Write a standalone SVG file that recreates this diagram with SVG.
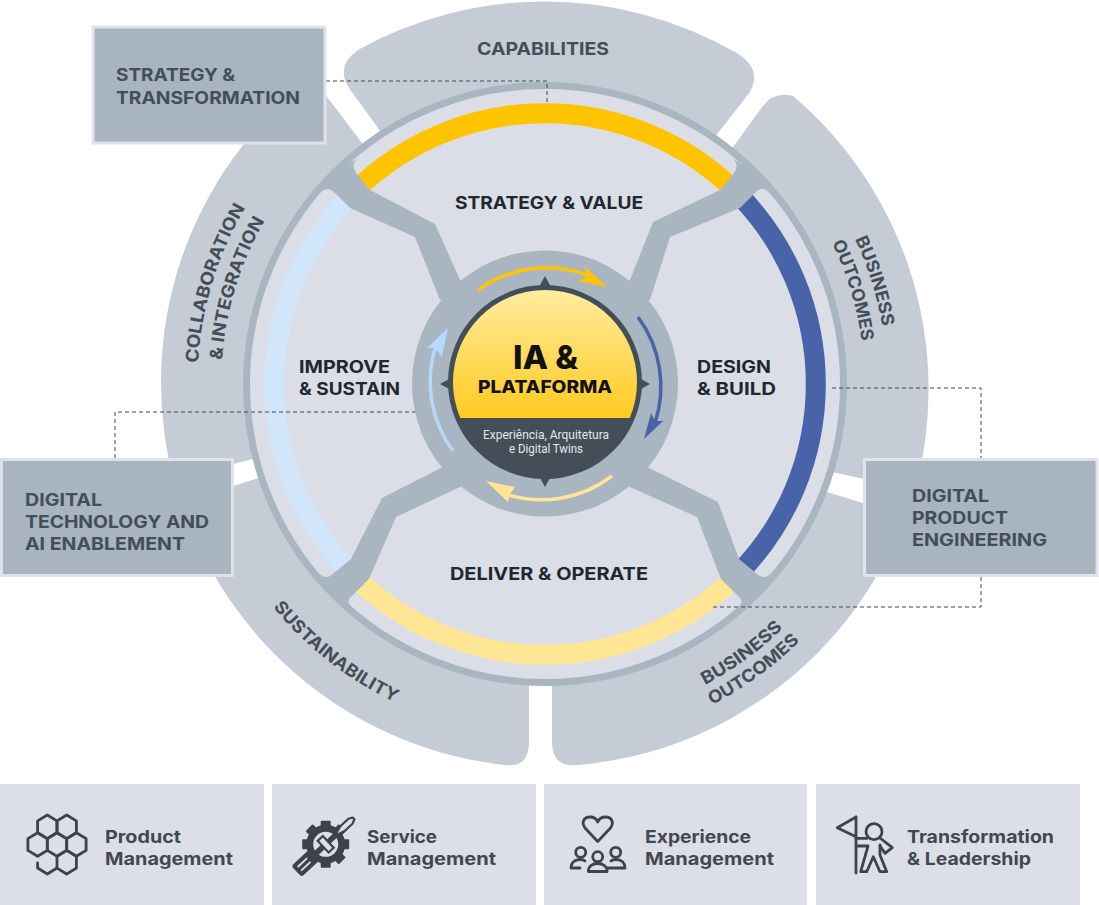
<svg xmlns="http://www.w3.org/2000/svg" xmlns:xlink="http://www.w3.org/1999/xlink" width="1099" height="905" viewBox="0 0 1099 905">
<style>
.sector{fill:#c6ccd5}
.spoke{fill:#a9b5c1}
.band{fill:none;stroke-width:20}
.lab{font-family:Inter,"Liberation Sans",sans-serif;font-weight:700;font-size:17.5px;fill:#434e58}
.main{fill:#22272f}
.bot{font-family:Inter,"Liberation Sans",sans-serif;font-weight:700;font-size:17.5px;fill:#434850}
.box{fill:#a8b4c0;stroke:#dfe3e9;stroke-width:3}
.tile{fill:#dcdfe7}
.dash{fill:none;stroke:#3f4954;stroke-width:1;stroke-dasharray:4 3}
.thin{fill:none;stroke-width:3.5}
.ico{fill:none;stroke:#3d434c;stroke-width:2.8;stroke-linejoin:round;stroke-linecap:round}
.icf{fill:#3d434c}
</style>
<defs>
<linearGradient id="sun" x1="0" y1="290" x2="0" y2="418" gradientUnits="userSpaceOnUse"><stop offset="0" stop-color="#ffec9e"/><stop offset="1" stop-color="#ffcb20"/></linearGradient>
<clipPath id="upper"><rect x="440" y="270" width="210" height="148"/></clipPath>
<path id="hex" d="M0,-11.8 L9.7,-5.9 V5.9 L0,11.8 L-9.7,5.9 V-5.9 Z"/>
<rect id="tooth" x="-5" y="-23.5" width="10" height="8" rx="1"/>
<path id="p1" d="M198,363 A348,348 0 0 1 300,137"/>
<path id="p2" d="M222,360 A324,324 0 0 1 320,150"/>
<path id="p3" d="M855,239 A342,342 0 0 1 872,484"/>
<path id="p4" d="M832,243 A320,320 0 0 1 848,484"/>
<path id="p5" d="M273,607 A352,352 0 0 0 545,736"/>
<path id="p6" d="M705,685 A341,341 0 0 0 886,384"/>
<path id="p7" d="M712,705 A362,362 0 0 0 907,384"/>
</defs>
<rect width="1099" height="905" fill="#fff"/>

<g id="sector-capabilities">
<path class="sector" d="M545,384 L378,128 L349,88 Q335,66 358,50 A384,384 0 0 1 735,52 Q763,68 750,92 L718,133 Z"/>
<text class="lab" x="477" y="55" textLength="132" lengthAdjust="spacingAndGlyphs">CAPABILITIES</text>
</g>
<g id="sector-business-outcomes-top">
<path class="sector" d="M545,384 L733,147 L763,106 Q774,91 793,96 A384,384 0 0 1 915,490 L832,472 Z"/>
<text class="lab"><textPath href="#p3" xlink:href="#p3" textLength="92" lengthAdjust="spacingAndGlyphs">BUSINESS</textPath></text>
<text class="lab"><textPath href="#p4" xlink:href="#p4" textLength="103" lengthAdjust="spacingAndGlyphs">OUTCOMES</textPath></text>
</g>
<g id="sector-business-outcomes-bottom">
<path class="sector" d="M545,384 L827,492 L905,516 A384,384 0 0 1 578,765 Q552,768 552,742 L552,680 Z"/>
<text class="lab"><textPath href="#p6" xlink:href="#p6" textLength="97" lengthAdjust="spacingAndGlyphs">BUSINESS</textPath></text>
<text class="lab"><textPath href="#p7" xlink:href="#p7" textLength="109" lengthAdjust="spacingAndGlyphs">OUTCOMES</textPath></text>
</g>
<g id="sector-sustainability">
<path class="sector" d="M545,384 L529,680 L529,742 Q529,768 505,765 A384,384 0 0 1 182,503 L243,483 Z"/>
<text class="lab"><textPath href="#p5" xlink:href="#p5" textLength="156" lengthAdjust="spacingAndGlyphs">SUSTAINABILITY</textPath></text>
</g>
<g id="sector-collaboration">
<path class="sector" d="M545,384 L237,463 L175,485 A384,384 0 0 1 312,77 L362,143 Z"/>
<text class="lab"><textPath href="#p1" xlink:href="#p1" textLength="164" lengthAdjust="spacingAndGlyphs">COLLABORATION</textPath></text>
<text class="lab"><textPath href="#p2" xlink:href="#p2" textLength="147" lengthAdjust="spacingAndGlyphs">&amp; INTEGRATION</textPath></text>
</g>

<g id="wheel">
<circle cx="545" cy="384" r="298.5" fill="#dbdee6" stroke="#a9b5c1" stroke-width="7"/>
<path class="band" stroke="#ffc400" d="M357,189 A271,271 0 0 1 733,189"/>
<path class="band" stroke="#4863a8" d="M740,196 A271,271 0 0 1 740,572"/>
<path class="band" stroke="#ffe694" d="M733,579 A271,271 0 0 1 357,579"/>
<path class="band" stroke="#d2e6fb" d="M350,572 A271,271 0 0 1 350,196"/>
</g>

<g id="connectors">
<path class="spoke" d="M475,300 L460,280 L435,224 L370,190 L356,173 Q349,163 360,157 L338,170 L321,193 Q327,186 333,191 L350,208 L415,237 L440,300 Z"/>
<path class="spoke" d="M615,300 L630,280 L653,222 L720,190 L734,173 Q741,163 730,157 L752,170 L769,193 Q763,186 757,191 L740,208 L670,237 L650,300 Z"/>
<path class="spoke" d="M470,450 L441,468 L382,498 L351,559 L334,573 Q325,582 318,571 L331,591 L354,610 Q344,602 352,596 L369,579 L396,517 L460,487 L480,470 Z"/>
<path class="spoke" d="M620,450 L649,468 L718,502 L739,559 L756,573 Q765,582 772,571 L759,591 L736,610 Q746,602 738,596 L721,579 L697,517 L630,487 L610,470 Z"/>
<path class="dash" d="M326,81 H547 V102"/>
<path class="dash" d="M115,458 V412 H453"/>
<path class="dash" d="M832,388 H981 V458"/>
<path class="dash" d="M981,577 V607 H712"/>
</g>

<text class="lab main" x="455" y="209" textLength="188" lengthAdjust="spacingAndGlyphs">STRATEGY &amp; VALUE</text>
<text class="lab main" x="299" y="373" textLength="91" lengthAdjust="spacingAndGlyphs">IMPROVE</text>
<text class="lab main" x="299" y="395" textLength="101" lengthAdjust="spacingAndGlyphs">&amp; SUSTAIN</text>
<text class="lab main" x="697" y="373" textLength="74" lengthAdjust="spacingAndGlyphs">DESIGN</text>
<text class="lab main" x="697" y="395" textLength="79" lengthAdjust="spacingAndGlyphs">&amp; BUILD</text>
<text class="lab main" x="450" y="580" textLength="198" lengthAdjust="spacingAndGlyphs">DELIVER &amp; OPERATE</text>

<g id="hub">
<circle cx="545" cy="383.5" r="133" fill="#a9b5c1"/>
<path class="thin" stroke="#ffc400" d="M478,290 A117,117 0 0 1 592,277"/>
<path fill="#ffc400" d="M607,287 L584,266 L587,277 L577,281 Z"/>
<path class="thin" stroke="#4863a8" d="M638,317 A117,117 0 0 1 655,423"/>
<path fill="#4863a8" d="M644,439 L663,421 L655,421 L651,413 Z"/>
<path class="thin" stroke="#ffe694" d="M612,476 A117,117 0 0 1 505,494"/>
<path fill="#ffe694" d="M486,481 L515,487 L510,494 L508,502 Z"/>
<path class="thin" stroke="#b8d8fa" d="M453,451 A117,117 0 0 1 436,345"/>
<path fill="#b8d8fa" d="M448,328 L427,348 L435,348 L442,357 Z"/>
<path fill="#434e58" d="M545,276 L551,287 H539 Z M650,384 L639,378 V390 Z M545,487 L551,476 H539 Z M440,384 L451,378 V390 Z"/>
<circle cx="545" cy="382" r="97" fill="#434e58"/>
<circle cx="545" cy="382" r="92" fill="url(#sun)" clip-path="url(#upper)"/>
<text x="513" y="369" font-family="Inter,'Liberation Sans',sans-serif" font-weight="800" font-size="32" fill="#111" textLength="65" lengthAdjust="spacingAndGlyphs">IA &amp;</text>
<text x="478" y="393" font-family="Inter,'Liberation Sans',sans-serif" font-weight="800" font-size="17" fill="#111" textLength="134" lengthAdjust="spacingAndGlyphs">PLATAFORMA</text>
<text x="483" y="439" font-family="Roboto,'Liberation Sans',sans-serif" font-size="12" fill="#e6e9ec" textLength="126" lengthAdjust="spacingAndGlyphs">Experiência, Arquitetura</text>
<text x="509" y="453" font-family="Roboto,'Liberation Sans',sans-serif" font-size="12" fill="#e6e9ec" textLength="74" lengthAdjust="spacingAndGlyphs">e Digital Twins</text>
</g>

<g id="box-strategy">
<rect class="box" x="93" y="27" width="232" height="116"/>
<text class="lab" x="116" y="81" textLength="119" lengthAdjust="spacingAndGlyphs">STRATEGY &amp;</text>
<text class="lab" x="116" y="104" textLength="184" lengthAdjust="spacingAndGlyphs">TRANSFORMATION</text>
</g>
<g id="box-digital-technology">
<rect class="box" x="1.5" y="459.5" width="231" height="116"/>
<text class="lab" x="25" y="506" textLength="77" lengthAdjust="spacingAndGlyphs">DIGITAL</text>
<text class="lab" x="25" y="528" textLength="184" lengthAdjust="spacingAndGlyphs">TECHNOLOGY AND</text>
<text class="lab" x="25" y="550" textLength="160" lengthAdjust="spacingAndGlyphs">AI ENABLEMENT</text>
</g>
<g id="box-digital-product">
<rect class="box" x="864.5" y="459.5" width="232.5" height="116"/>
<text class="lab" x="912" y="502" textLength="77" lengthAdjust="spacingAndGlyphs">DIGITAL</text>
<text class="lab" x="912" y="524" textLength="96" lengthAdjust="spacingAndGlyphs">PRODUCT</text>
<text class="lab" x="912" y="546" textLength="135" lengthAdjust="spacingAndGlyphs">ENGINEERING</text>
</g>

<g id="tile-product">
<rect class="tile" x="0" y="784" width="264" height="121"/>
<g class="ico">
<use href="#hex" xlink:href="#hex" x="47.3" y="826.8"/>
<use href="#hex" xlink:href="#hex" x="66.7" y="826.8"/>
<use href="#hex" xlink:href="#hex" x="37.6" y="844.5"/>
<use href="#hex" xlink:href="#hex" x="57" y="844.5"/>
<use href="#hex" xlink:href="#hex" x="76.4" y="844.5"/>
<use href="#hex" xlink:href="#hex" x="66.7" y="862.2"/>
<path d="M37.6,863 V868 L47.3,874 L57,868"/>
</g>
<text class="bot" x="105" y="843" textLength="76" lengthAdjust="spacingAndGlyphs">Product</text>
<text class="bot" x="105" y="865" textLength="128" lengthAdjust="spacingAndGlyphs">Management</text>
</g>
<g id="tile-service">
<rect class="tile" x="272" y="784" width="264" height="121"/>
<g transform="translate(325.7,844.3)">
<circle class="icf" r="19.5"/>
<g class="icf">
<use href="#tooth" xlink:href="#tooth"/>
<use href="#tooth" xlink:href="#tooth" transform="rotate(45)"/>
<use href="#tooth" xlink:href="#tooth" transform="rotate(90)"/>
<use href="#tooth" xlink:href="#tooth" transform="rotate(135)"/>
<use href="#tooth" xlink:href="#tooth" transform="rotate(180)"/>
<use href="#tooth" xlink:href="#tooth" transform="rotate(225)"/>
<use href="#tooth" xlink:href="#tooth" transform="rotate(270)"/>
<use href="#tooth" xlink:href="#tooth" transform="rotate(315)"/>
</g>
<circle r="12.5" fill="#dcdfe7"/>
<g transform="rotate(-43)">
<rect class="icf" x="-40" y="-7.5" width="24" height="15" rx="3"/>
<path d="M-36,-2.5 H-23 M-36,2.5 H-23" stroke="#dcdfe7" stroke-width="1.8" fill="none"/>
<rect class="icf" x="-14" y="-2.8" width="28" height="5.6"/>
<rect x="-3.5" y="-8" width="7" height="16" fill="#dcdfe7" stroke="#3d434c" stroke-width="2.2"/>
<path d="M17,-1.5 L23,-3.2 H34 L38,-1.2 V1.2 L34,3.2 H23 L17,1.5" fill="#dcdfe7" stroke="#3d434c" stroke-width="2.2" stroke-linejoin="round"/>
</g>
</g>
<text class="bot" x="367" y="843" textLength="70" lengthAdjust="spacingAndGlyphs">Service</text>
<text class="bot" x="367" y="865" textLength="129" lengthAdjust="spacingAndGlyphs">Management</text>
</g>
<g id="tile-experience">
<rect class="tile" x="544" y="784" width="263" height="121"/>
<g class="ico">
<path d="M597.7,841.5 L585,828 C581,822 584,817 590,817 C594,817 596.5,819 597.7,822 C599,819 601.5,817 605.5,817 C611.5,817 614.5,822 610.5,828 Z"/>
<circle cx="597.7" cy="856.7" r="5"/>
<circle cx="580.7" cy="852.3" r="5"/>
<circle cx="615.7" cy="852.3" r="5"/>
<path d="M588.3,871.5 H607.1 C607.1,866.5 603.1,863.5 597.7,863.5 C592.3,863.5 588.3,866.5 588.3,871.5 Z"/>
<path d="M571,868 C571,863 574.5,859.5 580,859.5 C582,859.5 584,860 585,861 M571,868 H580"/>
<path d="M625,868 C625,863 621.5,859.5 616,859.5 C614,859.5 612,860 611,861 M607.5,868 H625"/>
</g>
<text class="bot" x="645" y="843" textLength="106" lengthAdjust="spacingAndGlyphs">Experience</text>
<text class="bot" x="645" y="865" textLength="129" lengthAdjust="spacingAndGlyphs">Management</text>
</g>
<g id="tile-transformation">
<rect class="tile" x="816" y="784" width="264" height="121"/>
<g class="ico">
<path d="M856,817 L837.3,827.7 L856,836.7 M856,817 V873"/>
<circle cx="874" cy="831.7" r="8"/>
<path d="M856,838.3 H867"/>
<path d="M857,846 H868 L860.7,871.7 H866.7 L873.3,856.7 L880,871.7 H886.7 L880,855 V845"/>
<path d="M880,838 L892.3,847.7 L885,853.3 L880,846"/>
</g>
<text class="bot" x="907" y="843" textLength="147" lengthAdjust="spacingAndGlyphs">Transformation</text>
<text class="bot" x="907" y="865" textLength="124" lengthAdjust="spacingAndGlyphs">&amp; Leadership</text>
</g>
</svg>
